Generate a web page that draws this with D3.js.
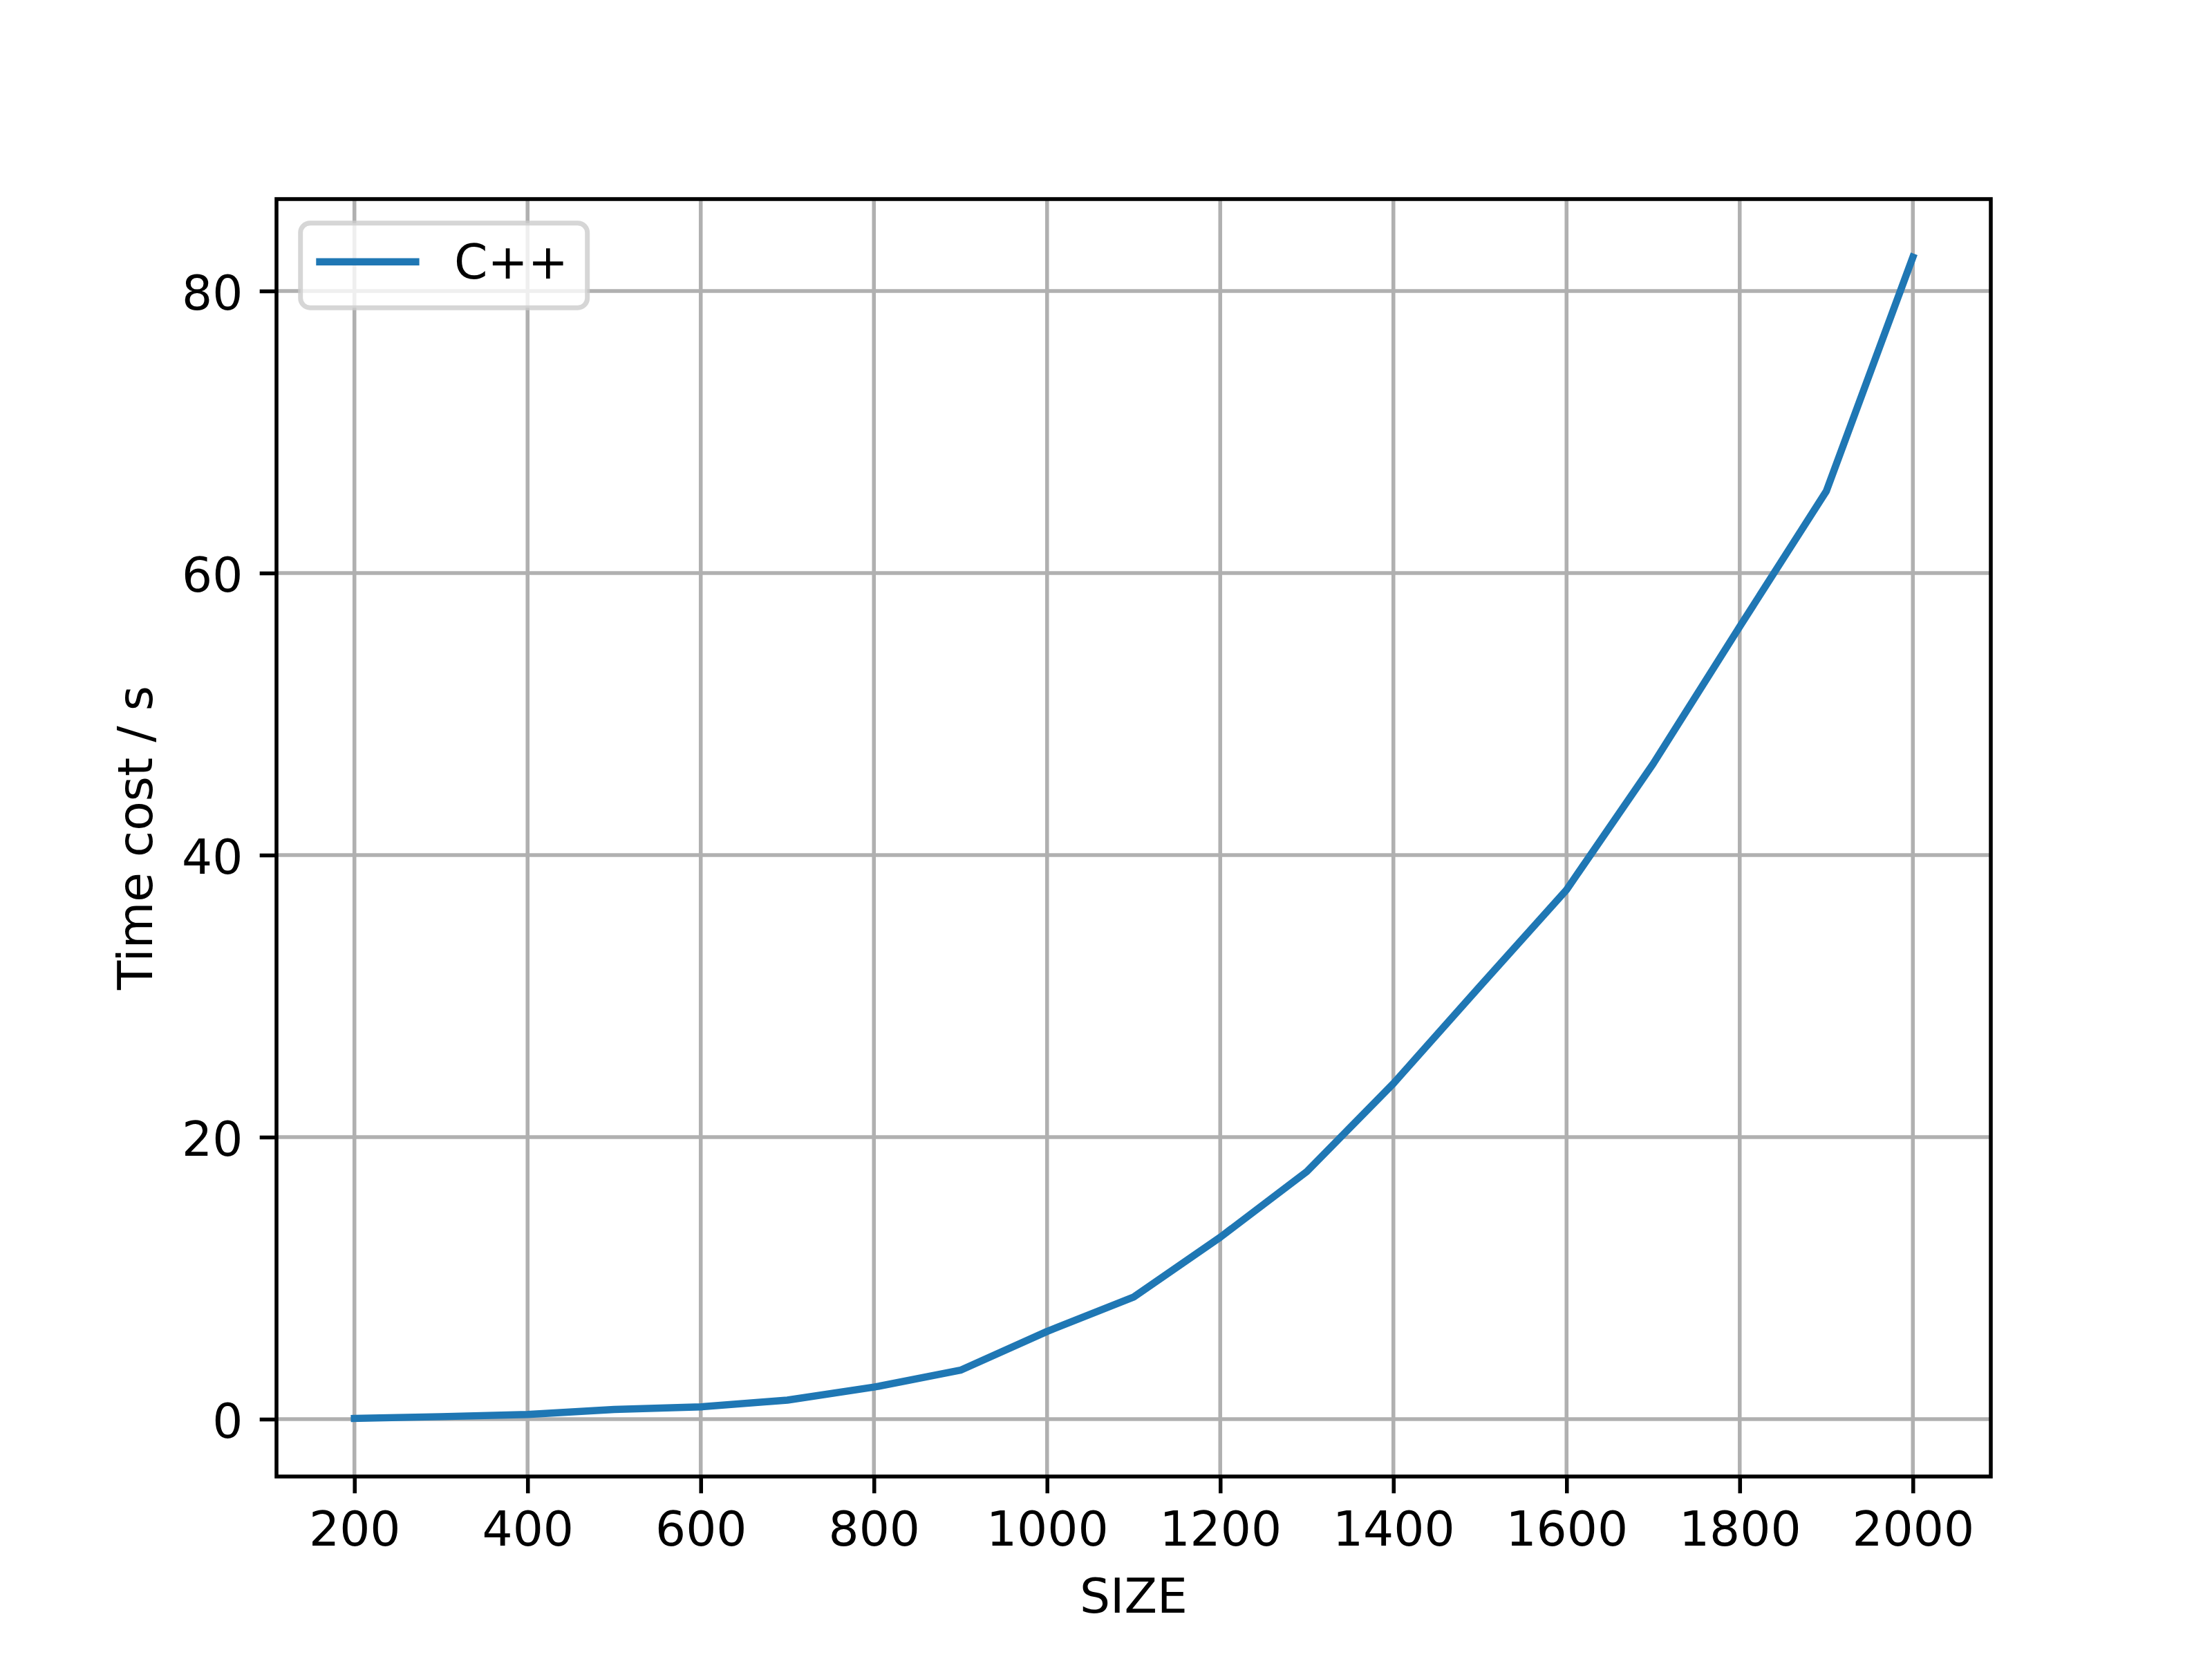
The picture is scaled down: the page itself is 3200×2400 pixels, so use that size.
<!DOCTYPE html>
<html>
<head>
<meta charset="utf-8">
<script src="https://cdn.jsdelivr.net/npm/d3@7"></script>
<style>
  body { margin: 0; background: #fff; }
  text { font-family: "DejaVu Sans", sans-serif; }
</style>
</head>
<body>
<div id="chart"></div>
<script>
// Matrix size vs time cost (C++)
const sizes = [200, 300, 400, 500, 600, 700, 800, 900, 1000, 1100, 1200, 1300, 1400, 1500, 1600, 1700, 1800, 1900, 2000];
const timeCost = [0.05, 0.18, 0.33, 0.69, 0.87, 1.35, 2.27, 3.47, 6.22, 8.66, 12.9, 17.56, 23.8, 30.7, 37.54, 46.47, 56.2, 65.8, 82.4];
const xTicks = [200, 400, 600, 800, 1000, 1200, 1400, 1600, 1800, 2000];
const yTicks = [0, 20, 40, 60, 80];
const seriesName = 'C++';

const width = 3200, height = 2400;
const plot = { left: 400, right: 2880, top: 288, bottom: 2136 };
const fontSize = 69.44;
const thin = 5.56; // 0.8pt at 500 dpi

// matplotlib-style 5% margins
const xPad = (d3.max(sizes) - d3.min(sizes)) * 0.05;
const yPad = (d3.max(timeCost) - d3.min(timeCost)) * 0.05;

const x = d3.scaleLinear()
    .domain([d3.min(sizes) - xPad, d3.max(sizes) + xPad])
    .range([plot.left, plot.right]);

const y = d3.scaleLinear()
    .domain([d3.min(timeCost) - yPad, d3.max(timeCost) + yPad])
    .range([plot.bottom, plot.top]);

const svg = d3.select('#chart')
    .append('svg')
    .attr('width', width)
    .attr('height', height);

svg.append('rect')
    .attr('width', width)
    .attr('height', height)
    .attr('fill', '#fff');

// Grid
const grid = svg.append('g').attr('class', 'grid');
grid.selectAll('line.gx')
    .data(xTicks)
    .enter()
    .append('line')
    .attr('x1', d => x(d)).attr('x2', d => x(d))
    .attr('y1', plot.top).attr('y2', plot.bottom)
    .attr('stroke', '#b0b0b0')
    .attr('stroke-width', thin);
grid.selectAll('line.gy')
    .data(yTicks)
    .enter()
    .append('line')
    .attr('x1', plot.left).attr('x2', plot.right)
    .attr('y1', d => y(d)).attr('y2', d => y(d))
    .attr('stroke', '#b0b0b0')
    .attr('stroke-width', thin);

// Data line
const line = d3.line()
    .x((d, i) => x(sizes[i]))
    .y(d => y(d));

svg.append('path')
    .datum(timeCost)
    .attr('d', line)
    .attr('fill', 'none')
    .attr('stroke', '#1f77b4')
    .attr('stroke-width', 10.42)
    .attr('stroke-linecap', 'square')
    .attr('stroke-linejoin', 'round');

// Axes
const xAxis = svg.append('g')
    .attr('transform', `translate(0,${plot.bottom})`)
    .call(d3.axisBottom(x).tickValues(xTicks).tickFormat(d3.format('d'))
        .tickSize(24.3).tickPadding(24.3).tickSizeOuter(0));
xAxis.select('.domain').remove();
xAxis.selectAll('.tick line').attr('stroke', '#000').attr('stroke-width', thin);
xAxis.selectAll('.tick text')
    .attr('y', 100)
    .attr('dy', null)
    .attr('fill', '#000')
    .style('font-family', '"DejaVu Sans", sans-serif')
    .style('font-size', fontSize + 'px');

const yAxis = svg.append('g')
    .attr('transform', `translate(${plot.left},0)`)
    .call(d3.axisLeft(y).tickValues(yTicks).tickFormat(d3.format('d'))
        .tickSize(24.3).tickPadding(24.3).tickSizeOuter(0));
yAxis.select('.domain').remove();
yAxis.selectAll('.tick line').attr('stroke', '#000').attr('stroke-width', thin);
yAxis.selectAll('.tick text')
    .attr('x', -48.6)
    .attr('dy', 26.5)
    .attr('fill', '#000')
    .style('font-family', '"DejaVu Sans", sans-serif')
    .style('font-size', fontSize + 'px');

// Frame
svg.append('rect')
    .attr('x', plot.left).attr('y', plot.top)
    .attr('width', plot.right - plot.left).attr('height', plot.bottom - plot.top)
    .attr('fill', 'none')
    .attr('stroke', '#000')
    .attr('stroke-width', thin)
    .attr('stroke-linecap', 'square');

// Axis labels
svg.append('text')
    .attr('x', (plot.left + plot.right) / 2)
    .attr('y', 2333)
    .attr('text-anchor', 'middle')
    .style('font-size', fontSize + 'px')
    .text('SIZE');

svg.append('text')
    .attr('transform', `translate(220,${(plot.top + plot.bottom) / 2}) rotate(-90)`)
    .attr('text-anchor', 'middle')
    .style('font-size', fontSize + 'px')
    .text('Time cost / s');

// Legend
const legend = svg.append('g').attr('class', 'legend');
legend.append('rect')
    .attr('x', 434.7).attr('y', 322.7)
    .attr('width', 415).attr('height', 122.5)
    .attr('rx', 13.9).attr('ry', 13.9)
    .attr('fill', '#fff').attr('fill-opacity', 0.8)
    .attr('stroke', '#ccc').attr('stroke-opacity', 0.8)
    .attr('stroke-width', 6.94);
legend.append('line')
    .attr('x1', 462.5).attr('x2', 601.4)
    .attr('y1', 378.7).attr('y2', 378.7)
    .attr('stroke', '#1f77b4')
    .attr('stroke-width', 10.42)
    .attr('stroke-linecap', 'square');
legend.append('text')
    .attr('x', 657).attr('y', 402.7)
    .style('font-size', fontSize + 'px')
    .text(seriesName);
</script>
</body>
</html>
